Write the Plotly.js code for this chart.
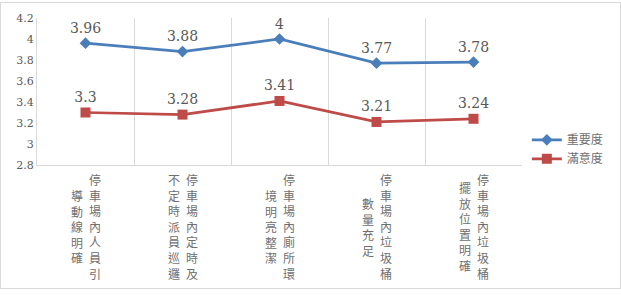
<!DOCTYPE html>
<html>
<head>
<meta charset="utf-8">
<script src="https://cdn.plot.ly/plotly-3.0.1.min.js"></script>
<style>
  html, body { margin: 0; padding: 0; background: #fff; }
  #wrap { position: relative; width: 621px; height: 296px; }
  #chart { position: absolute; left: 0; top: 0; width: 621px; height: 296px; }
  #frame { position: absolute; left: 0; top: 2px; width: 619px; height: 285px; border: 1px solid #d9d9d9; pointer-events: none; }
</style>
</head>
<body>
<div id="wrap"><div id="chart"></div><div id="frame"></div></div>
<script>
// ---- data ----
const categories = [
  "停車場內人員引導動線明確",
  "停車場內定時及不定時派員巡邏",
  "停車場內廁所環境明亮整潔",
  "停車場內垃圾桶數量充足",
  "停車場內垃圾桶擺放位置明確"
];
const seriesNames = ["重要度", "滿意度"];
const importance = [3.96, 3.88, 4, 3.77, 3.78];
const satisfaction = [3.3, 3.28, 3.41, 3.21, 3.24];
const yTickVals = [2.8, 3, 3.2, 3.4, 3.6, 3.8, 4, 4.2];
const yTickText = ["2.8", "3", "3.2", "3.4", "3.6", "3.8", "4", "4.2"];

const gray = "#595959";
const serif = "DejaVu Serif";
const cjk = "Noto Sans CJK TC";

const traces = [
  {
    x: categories, y: importance, name: seriesNames[0],
    type: "scatter", mode: "lines+markers+text",
    line: { color: "#4a7ebb", width: 2.75 },
    marker: { symbol: "diamond", size: 9, color: "#4a7ebb" },
    text: importance.map(String), textposition: "top center",
    textfont: { family: serif, size: 14, color: gray },
    cliponaxis: false
  },
  {
    x: categories, y: satisfaction, name: seriesNames[1],
    type: "scatter", mode: "lines+markers+text",
    line: { color: "#be4b48", width: 2.75 },
    marker: { symbol: "square", size: 10, color: "#be4b48" },
    text: satisfaction.map(String), textposition: "top center",
    textfont: { family: serif, size: 14, color: gray },
    cliponaxis: false
  }
];

// vertical category labels: two columns, read right-to-left
const annotations = [];
categories.forEach(function (c) {
  const right = c.slice(0, 7).split("").join("<br>");
  const left = c.slice(7).split("").join("<br>");
  annotations.push({ x: c, xref: "x", y: -0.42, yref: "paper", text: right,
    showarrow: false, xanchor: "center", yanchor: "middle", xshift: 9,
    font: { family: cjk, size: 12, color: "#6f6f6f" } });
  annotations.push({ x: c, xref: "x", y: -0.42, yref: "paper", text: left,
    showarrow: false, xanchor: "center", yanchor: "middle", xshift: -9,
    font: { family: cjk, size: 12, color: "#6f6f6f" } });
});

const layout = {
  width: 621, height: 296,
  margin: { l: 37, r: 94, t: 18, b: 131 },
  paper_bgcolor: "#fff", plot_bgcolor: "#fff",
  showlegend: true,
  legend: { x: 1.01, xanchor: "left", y: 0.27, yanchor: "top",
    font: { family: cjk, size: 12, color: "#6f6f6f" }, tracegroupgap: 0,
    itemwidth: 30 },
  xaxis: {
    type: "category", range: [-0.5, 4.5], tickson: "boundaries",
    showgrid: true, gridcolor: "#d9d9d9", gridwidth: 1,
    showline: true, linecolor: "#d9d9d9", linewidth: 1,
    showticklabels: false, ticks: "", zeroline: false, fixedrange: true
  },
  yaxis: {
    range: [2.8, 4.2], tickvals: yTickVals, ticktext: yTickText,
    showgrid: false, zeroline: false,
    showline: true, linecolor: "#d9d9d9", linewidth: 1,
    ticks: "", ticklen: 0,
    tickfont: { family: serif, size: 11, color: gray }
  },
  annotations: annotations,
  hovermode: false
};

Plotly.newPlot("chart", traces, layout, { staticPlot: true, displayModeBar: false });
</script>
</body>
</html>
